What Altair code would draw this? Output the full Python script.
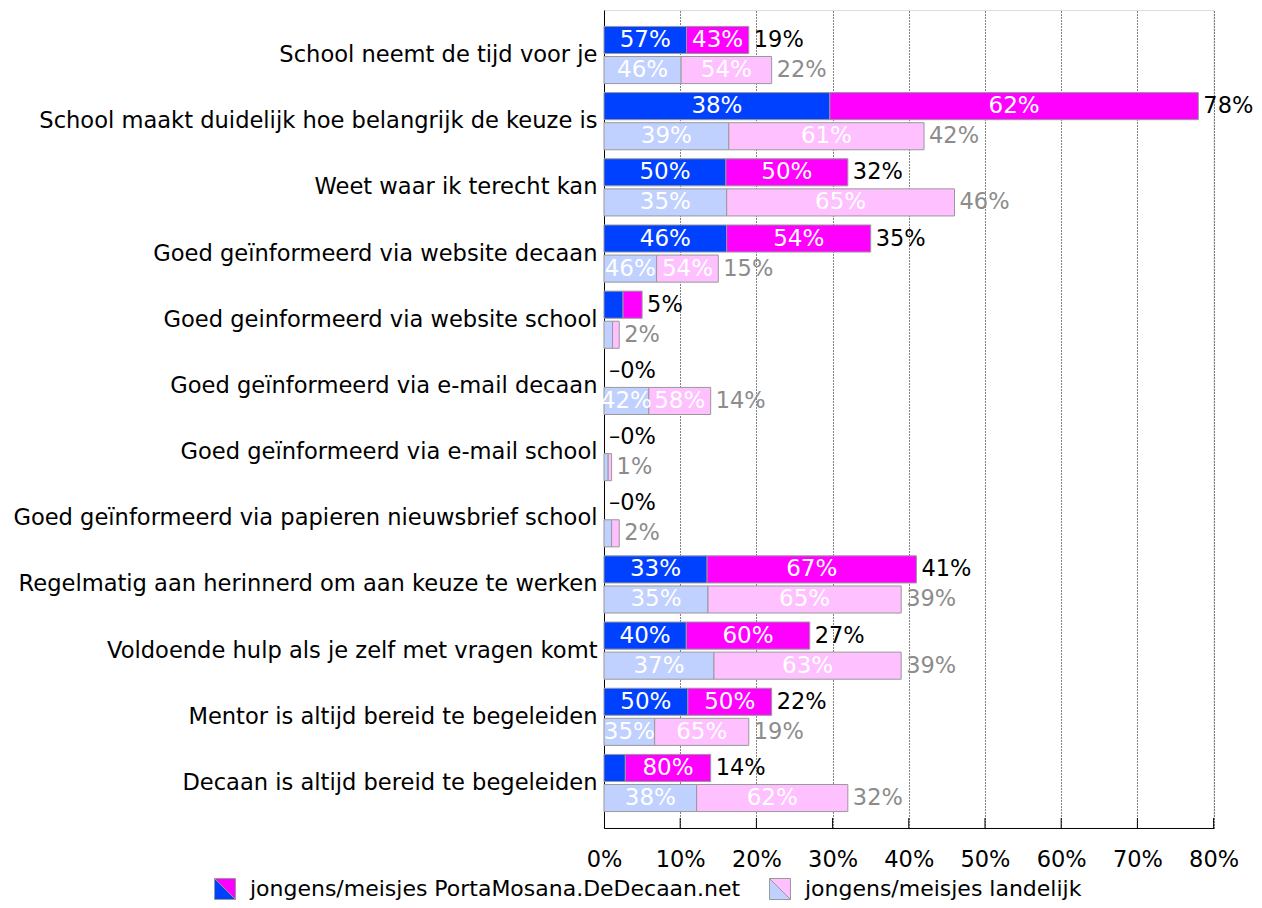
import altair as alt
import pandas as pd

categories = [
    "School neemt de tijd voor je",
    "School maakt duidelijk hoe belangrijk de keuze is",
    "Weet waar ik terecht kan",
    "Goed geïnformeerd via website decaan",
    "Goed geinformeerd via website school",
    "Goed geïnformeerd via e-mail decaan",
    "Goed geïnformeerd via e-mail school",
    "Goed geïnformeerd via papieren nieuwsbrief school",
    "Regelmatig aan herinnerd om aan keuze te werken",
    "Voldoende hulp als je zelf met vragen komt",
    "Mentor is altijd bereid te begeleiden",
    "Decaan is altijd bereid te begeleiden",
]
school_total = [19, 78, 32, 35, 5, 0, 0, 0, 41, 27, 22, 14]
school_boys = [57, 38, 50, 46, 50, 0, 0, 0, 33, 40, 50, 20]
national_total = [22, 42, 46, 15, 2, 14, 1, 2, 39, 39, 19, 32]
national_boys = [46, 39, 35, 46, 56, 42, 55, 50, 35, 37, 35, 38]
series_names = ["school", "landelijk"]
legend_labels = ["jongens/meisjes PortaMosana.DeDecaan.net", "jongens/meisjes landelijk"]
x_ticks = [0, 10, 20, 30, 40, 50, 60, 70, 80]

seg_keys = ["school-jongens", "school-meisjes", "landelijk-jongens", "landelijk-meisjes"]
seg_colors = ["#0040ff", "#ff00ff", "#c0d0ff", "#ffc0ff"]

FONT = "DejaVu Sans"
W, H = 609.6, 818

rows, trows = [], []
for i, c in enumerate(categories):
    for s, tot, boys in (("school", school_total[i], school_boys[i]),
                         ("landelijk", national_total[i], national_boys[i])):
        trows.append(dict(cat=c, series=s, total=tot,
                          label=("\u20130%" if tot == 0 else f"{tot}%")))
        for g, share, o in (("jongens", boys, 0), ("meisjes", 100 - boys, 1)):
            rows.append(dict(cat=c, series=s, key=f"{s}-{g}", share=share,
                             label=f"{share}%", value=tot * share / 100, order=o))
seg = pd.DataFrame(rows)
tot_df = pd.DataFrame(trows)

y_enc = alt.Y("cat:N", sort=categories,
              scale=alt.Scale(paddingInner=0, paddingOuter=0.18),
              axis=alt.Axis(title=None, ticks=False, labelPadding=7, labelFontSize=22.6,
                            labelFont=FONT, labelColor="black", domainColor="black",
                            labelLimit=700))
yoff = alt.YOffset("series:N", sort=series_names,
                   scale=alt.Scale(paddingInner=0.1, paddingOuter=0.15))
x_scale = alt.Scale(domain=[0, 80], nice=False)

base = (alt.Chart(seg)
        .transform_filter("datum.value > 0")
        .transform_stack(stack="value", groupby=["cat", "series"],
                         sort=[alt.SortField("order", "ascending")], as_=["x0", "x1"])
        .transform_calculate(mid="(datum.x0 + datum.x1) / 2"))

bars = base.mark_bar(stroke="#999999", strokeWidth=1).encode(
    x=alt.X("x0:Q", scale=x_scale,
            axis=alt.Axis(title=None, values=x_ticks, labelExpr="datum.value + '%'",
                          ticks=False, labelPadding=21, labelFontSize=22.5, labelFont=FONT,
                          labelFlush=False, labelOverlap=False,
                          labelColor="black", domainColor="black", grid=True,
                          gridColor="black", gridDash=[1, 2], gridOpacity=1)),
    x2="x1:Q",
    y=y_enc,
    yOffset=yoff,
    color=alt.Color("key:N", scale=alt.Scale(domain=seg_keys, range=seg_colors), legend=None),
)

inner = base.transform_filter("datum.value >= 4").mark_text(
    color="white", fontSize=23, font=FONT, baseline="middle", align="center").encode(
    x=alt.X("mid:Q", scale=x_scale),
    y=alt.Y("cat:N", sort=categories),
    yOffset=alt.YOffset("series:N", sort=series_names),
    text="label:N",
)

totals = alt.Chart(tot_df).mark_text(
    align="left", baseline="middle", dx=5, fontSize=22.5, font=FONT).encode(
    x=alt.X("total:Q", scale=x_scale),
    y=alt.Y("cat:N", sort=categories),
    yOffset=alt.YOffset("series:N", sort=series_names),
    text="label:N",
    color=alt.Color("series:N", scale=alt.Scale(domain=series_names,
                                                range=["#000000", "#8c8c8c"]), legend=None),
)

ticks = alt.Chart(pd.DataFrame({"t": x_ticks[1:]})).mark_rule(
    color="black", strokeWidth=1).encode(
    x=alt.X("t:Q", scale=x_scale), y=alt.value(H - 10), y2=alt.value(H))

one = alt.Data(values=[{}])
LY = 879


def legend_item(xs, xt, label, c_low, c_high):
    low = alt.Chart(one).mark_point(
        shape="M-1,-1L1,1L-1,1Z", filled=True, fill=c_low, stroke="#999999",
        strokeWidth=1, size=441, opacity=1).encode(x=alt.value(xs), y=alt.value(LY))
    high = alt.Chart(one).mark_point(
        shape="M-1,-1L1,-1L1,1Z", filled=True, fill=c_high, stroke="#999999",
        strokeWidth=1, size=441, opacity=1).encode(x=alt.value(xs), y=alt.value(LY))
    txt = alt.Chart(one).mark_text(
        align="left", baseline="middle", fontSize=22, font=FONT, color="black").encode(
        x=alt.value(xt), y=alt.value(LY), text=alt.value(label))
    return [low, high, txt]


leg = legend_item(-379, -354, legend_labels[0], seg_colors[0], seg_colors[1]) + \
      legend_item(176, 201, legend_labels[1], seg_colors[2], seg_colors[3])

chart = alt.layer(bars, inner, totals, ticks, *leg).resolve_scale(color="independent").properties(
    width=W, height=H,
    padding={"left": 596, "top": 2, "right": 40, "bottom": 76},
    autosize=alt.AutoSizeParams(type="none"),
).configure_view(stroke=None).configure(font=FONT)

chart.save("out.html", embed_options={"renderer": "svg", "actions": False})
